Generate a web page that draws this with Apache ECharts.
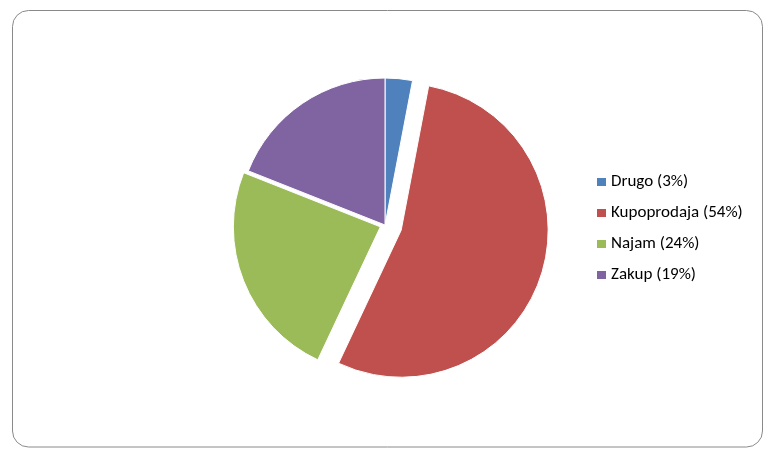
<!DOCTYPE html>
<html>
<head>
<meta charset="utf-8">
<script src="https://cdn.jsdelivr.net/npm/echarts@6/dist/echarts.min.js"></script>
<style>
html,body{margin:0;padding:0;background:#fff;}
#chart{width:783px;height:459px;}
</style>
</head>
<body>
<div id="chart"></div>
<script>
// Data
const categories = ['Drugo', 'Kupoprodaja', 'Najam', 'Zakup'];
const values = [3, 54, 24, 19];
const colors = ['#4F81BD', '#C0504D', '#9BBB59', '#8064A2'];
// exploded slices
const explodedMain = 'Kupoprodaja';
const explodedSecond = 'Najam';

const FONT = 'Carlito, Calibri, Lato, "Open Sans", sans-serif';
const total = values.reduce((a, b) => a + b, 0);

function buildData(visibleFn, selectedName) {
  return categories.map((name, i) => ({
    name: name,
    value: values[i],
    selected: name === selectedName,
    itemStyle: visibleFn(name)
      ? { color: colors[i], borderColor: '#ffffff', borderWidth: 1 }
      : { color: colors[i], opacity: 0, borderWidth: 0 }
  }));
}

const common = {
  type: 'pie',
  center: [385, 225],
  radius: [0, 147],
  startAngle: 90,
  clockwise: true,
  selectedMode: 'single',
  label: { show: false },
  labelLine: { show: false },
  emphasis: { disabled: true },
  silent: true,
  animation: false
};

const chart = echarts.init(document.getElementById('chart'), null, { renderer: 'canvas' });
chart.setOption({
  backgroundColor: '#ffffff',
  animation: false,
  graphic: [{
    type: 'rect',
    shape: { x: 12.5, y: 10.5, width: 750, height: 436.5, r: 16 },
    style: { fill: 'none', stroke: '#8a8a8a', lineWidth: 1 },
    silent: true,
    z: -10
  }],
  legend: {
    orient: 'vertical',
    left: 597,
    top: 173,
    padding: 0,
    itemWidth: 9,
    itemHeight: 8,
    itemGap: 13,
    icon: 'rect',
    selectedMode: false,
    textStyle: { fontFamily: FONT, fontSize: 17, color: '#000000', lineHeight: 18 },
    formatter: function (name) {
      const i = categories.indexOf(name);
      return name + ' (' + Math.round(values[i] / total * 100) + '%)';
    },
    data: categories.map((name, i) => ({
      name: name,
      itemStyle: { color: colors[i], opacity: 1, borderWidth: 0 }
    }))
  },
  series: [
    Object.assign({}, common, {
      name: 'main',
      selectedOffset: 17,
      data: buildData(n => n !== explodedSecond, explodedMain)
    }),
    Object.assign({}, common, {
      name: 'second',
      selectedOffset: 5,
      data: buildData(n => n === explodedSecond, explodedSecond)
    })
  ]
});
</script>
</body>
</html>
